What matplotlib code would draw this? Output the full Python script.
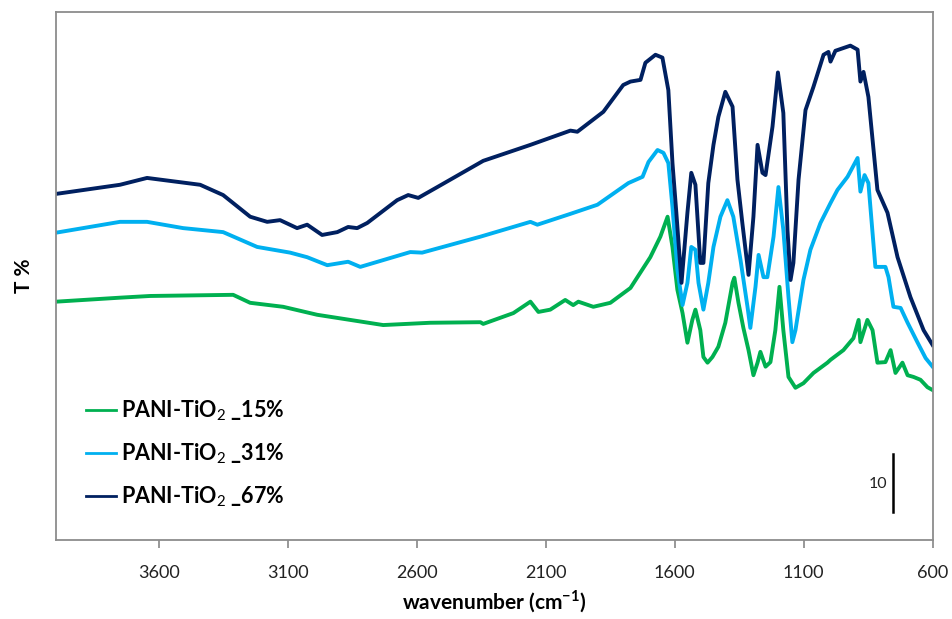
import numpy as np
import matplotlib.pyplot as plt

# FTIR transmission spectra, offset curves (T %, arbitrary offset)
wn_67 = [4000, 3752, 3647, 3441, 3352, 3247, 3181, 3131, 3065, 3026, 2968, 2909, 2867,
         2832, 2793, 2677, 2634, 2595, 2521, 2343, 2160, 2005, 1978, 1877, 1800, 1772,
         1733, 1714, 1675, 1648, 1625, 1609, 1594, 1574, 1551, 1536, 1520, 1501, 1489,
         1470, 1450, 1431, 1404, 1376, 1357, 1338, 1314, 1295, 1279, 1260, 1248, 1221,
         1200, 1179, 1163, 1151, 1140, 1120, 1093, 1062, 1023, 1004, 996, 977, 919,
         891, 880, 868, 849, 814, 775, 736, 686, 635, 600]
t_67 = [60.7, 62.3, 63.5, 62.3, 60.5, 56.7, 55.8, 56.1, 54.7, 55.3, 53.5, 54.0, 54.9,
        54.7, 55.6, 59.6, 60.5, 60.0, 61.9, 66.5, 69.3, 71.8, 71.6, 75.1, 79.8, 80.4,
        80.7, 83.7, 85.1, 84.6, 78.9, 66.1, 57.4, 45.1, 57.4, 64.4, 62.3, 48.6, 48.6,
        62.6, 69.3, 74.2, 78.6, 76.0, 63.2, 55.6, 46.5, 56.7, 69.3, 64.4, 64.0, 72.5,
        82.0, 74.9, 54.4, 45.6, 48.6, 63.2, 75.4, 79.5, 85.1, 85.6, 83.9, 85.8, 86.7,
        86.0, 80.4, 82.1, 77.7, 61.4, 57.4, 49.6, 42.6, 36.8, 34.2]

wn_31 = [4000, 3752, 3647, 3507, 3352, 3220, 3092, 3026, 2948, 2867, 2820, 2626, 2580,
         2354, 2160, 2133, 2005, 1900, 1780, 1725, 1702, 1667, 1644, 1625, 1609, 1590,
         1570, 1551, 1536, 1520, 1508, 1489, 1470, 1450, 1423, 1396, 1373, 1345, 1318,
         1307, 1287, 1275, 1256, 1241, 1217, 1198, 1179, 1159, 1144, 1132, 1101, 1074,
         1035, 996, 969, 930, 891, 880, 864, 849, 822, 783, 771, 752, 724, 697, 658,
         627, 600]
t_31 = [53.9, 55.8, 55.8, 54.7, 54.0, 51.4, 50.4, 49.6, 48.2, 48.8, 47.9, 50.5, 50.4,
        53.2, 55.8, 55.3, 57.2, 58.8, 62.6, 63.7, 66.3, 68.4, 67.9, 66.1, 58.4, 47.4,
        41.2, 45.1, 51.4, 50.9, 45.1, 40.4, 45.1, 51.4, 56.7, 59.6, 56.7, 49.1, 40.9,
        37.2, 44.4, 50.0, 46.1, 46.1, 53.2, 61.9, 54.4, 42.6, 34.7, 36.8, 45.6, 50.9,
        55.6, 59.1, 61.4, 63.7, 67.0, 61.1, 64.0, 62.6, 47.9, 47.9, 46.1, 40.9, 40.7,
        38.1, 34.6, 31.9, 30.4]

wn_15 = [4000, 3752, 3635, 3313, 3247, 3119, 2987, 2859, 2731, 2549, 2354, 2343, 2226,
         2160, 2129, 2083, 2025, 1994, 1974, 1916, 1850, 1772, 1695, 1656, 1628, 1609,
         1590, 1570, 1551, 1532, 1520, 1501, 1489, 1473, 1454, 1431, 1404, 1376, 1369,
         1353, 1334, 1314, 1295, 1279, 1268, 1248, 1229, 1210, 1194, 1179, 1159, 1132,
         1101, 1062, 1008, 996, 946, 907, 887, 880, 853, 833, 814, 783, 763, 744, 717,
         697, 674, 647, 620, 600]
t_15 = [41.8, 42.5, 42.8, 43.0, 41.6, 40.9, 39.5, 38.6, 37.7, 38.1, 38.2, 37.9, 39.8,
        41.8, 40.0, 40.4, 42.1, 41.2, 41.8, 40.9, 41.6, 44.2, 49.6, 53.2, 56.7, 51.4,
        43.9, 39.8, 34.6, 38.6, 40.4, 36.8, 32.1, 31.1, 32.1, 33.9, 38.1, 45.1, 46.0,
        41.6, 37.2, 33.3, 28.9, 31.1, 33.0, 30.4, 31.2, 36.8, 44.4, 36.8, 28.6, 26.7,
        27.5, 29.3, 31.1, 31.6, 33.3, 35.4, 38.6, 34.7, 38.6, 36.8, 31.1, 31.2, 33.3,
        29.3, 31.1, 28.9, 28.6, 28.1, 26.8, 26.3]

labels = ['PANI-TiO$_2$ _15%', 'PANI-TiO$_2$ _31%', 'PANI-TiO$_2$ _67%']
colors = ['#00B050', '#00B0F0', '#002060']
xticks = [3600, 3100, 2600, 2100, 1600, 1100, 600]

plt.rcParams['font.family'] = ['Lato', 'DejaVu Sans']
plt.rcParams['mathtext.fontset'] = 'custom'
plt.rcParams['mathtext.rm'] = 'Lato'
plt.rcParams['mathtext.bf'] = 'Lato:bold'

fig = plt.figure(figsize=(9.53, 6.19), dpi=100)
ax = fig.add_axes([0.0588, 0.1276, 0.9198, 0.853])

for wn, t, lab, c in zip([wn_15, wn_31, wn_67], [t_15, t_31, t_67], labels, colors):
    ax.plot(wn, t, color=c, lw=2.8, label=lab, solid_joinstyle='round')

ax.set_xlim(4000, 600)
ax.set_ylim(0, 92.6)
ax.set_xticks(xticks)
ax.set_xticklabels([str(v) for v in xticks], fontsize=13, color='#222222')
ax.set_yticks([])
ax.tick_params(axis='x', direction='out', length=6, width=1.2, color='#868686', pad=12)
for s in ax.spines.values():
    s.set_color('#8c8c8c')
    s.set_linewidth(1.3)

ax.set_xlabel(r'wavenumber (cm$^{\mathbf{-1}}$)', fontsize=15, fontweight='bold', labelpad=5)
ax.set_ylabel('T %', fontsize=15, fontweight='bold', labelpad=16)

# 10 % scale bar
ax.plot([755, 755], [5, 15], color='black', lw=1.8)
ax.text(775, 9.8, '10', fontsize=11.5, ha='right', va='center', color='#222222')

leg = ax.legend(loc='upper left', bbox_to_anchor=(0.012, 0.305), frameon=False,
                handlelength=1.4, handletextpad=0.25, labelspacing=0.85,
                prop={'weight': 'bold', 'size': 15.5})
for line in leg.get_lines():
    line.set_linewidth(2)

fig.savefig('out.png', dpi=100)
